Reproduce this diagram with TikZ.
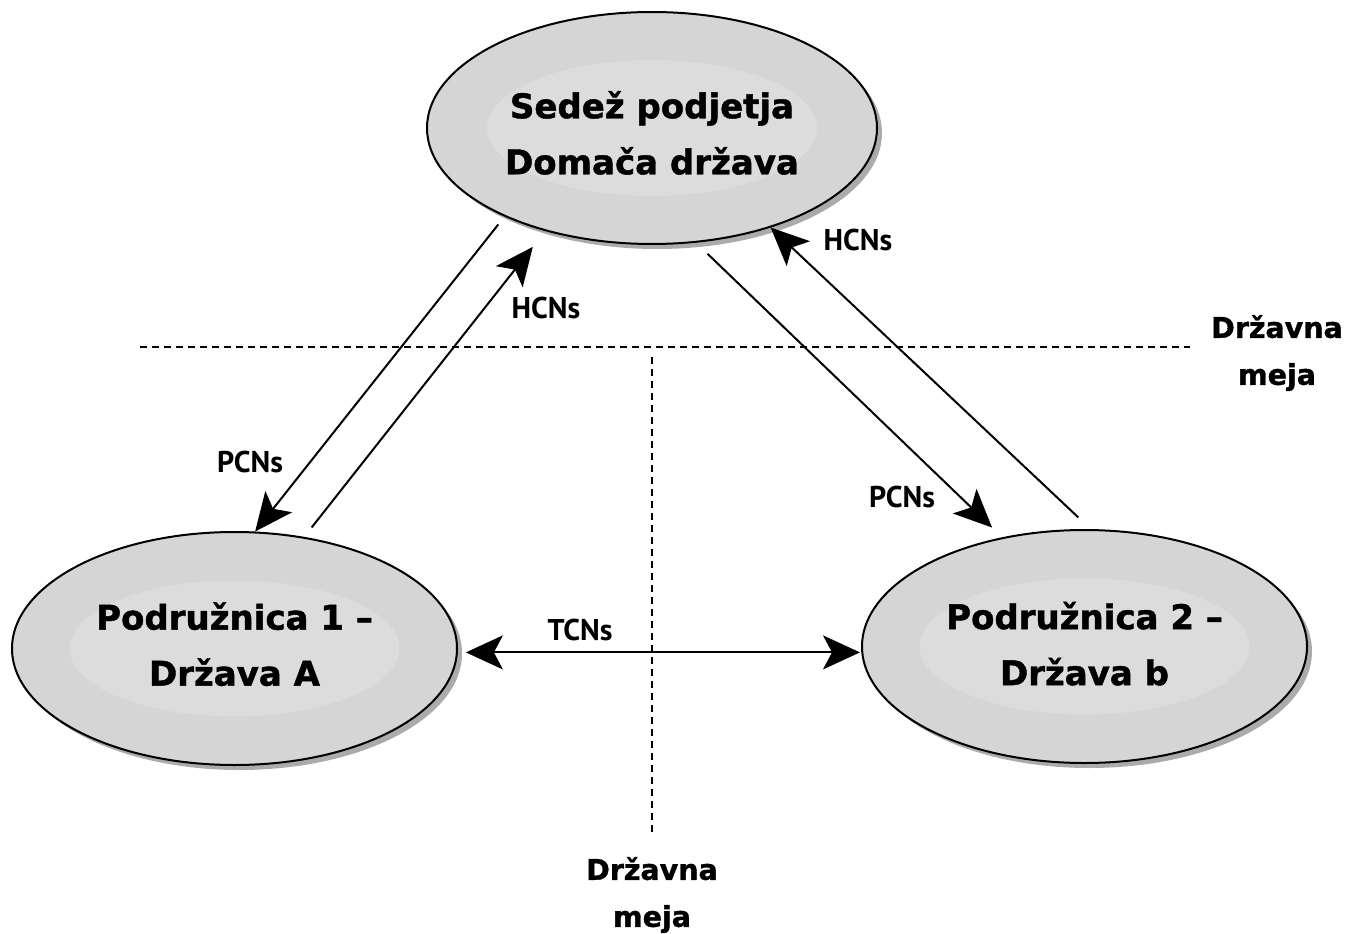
\documentclass[tikz,border=0pt]{standalone}
\usepackage{fontspec}
\setmainfont{DejaVu Sans}
\newfontfamily\heavy{DejaVu Sans}[BoldFeatures={FakeBold=1.3}]
\newfontfamily\lblfont{PT Sans}
\usetikzlibrary{shapes.geometric,arrows.meta,shadows}
\definecolor{ellfill}{HTML}{D5D5D5}
\definecolor{ellinner}{HTML}{DCDCDC}
\definecolor{shadowgray}{HTML}{ABABAB}
\tikzset{
  ell/.style={ellipse, draw=black, line width=2pt, fill=ellfill, inner sep=0pt,
    align=center, font={\heavy\fontsize{34}{56}\selectfont\bfseries},
    drop shadow={shadow xshift=5pt, shadow yshift=-5pt, fill=shadowgray, opacity=1},
    path picture={\fill[ellinner] (path picture bounding box.center) ellipse [x radius=165pt, y radius=68pt];}},
  conn/.style={line width=2pt, -{Stealth[length=38pt,width=34pt,inset=9pt]}},
  conn2/.style={line width=2pt, {Stealth[length=37pt,width=34pt,inset=9pt]}-{Stealth[length=37pt,width=34pt,inset=9pt]}},
  lbl/.style={font={\lblfont\fontsize{30}{32}\selectfont\bfseries}, inner sep=0pt},
  border/.style={font={\heavy\fontsize{28.5}{47}\selectfont\bfseries}, align=center, inner sep=0pt},
  bline/.style={line width=2pt, dash pattern=on 7pt off 5pt}
}
\begin{document}
\begin{tikzpicture}[x=1pt,y=-1pt]
\useasboundingbox[fill=white] (0,0) rectangle (1347,934);
% border lines
\draw[bline] (140,347) -- (1190,347);
\draw[bline] (652,357) -- (652,835);
% nodes
\node[ell, minimum width=450pt, minimum height=232pt] (hq) at (652,128) {\rule{0pt}{37pt}Sedež podjetja\\Domača država};
\node[ell, minimum width=445pt, minimum height=233pt] (s1) at (234.5,648.5) {Podružnica 1 –\\Država A\rule[-9pt]{0pt}{9pt}};
\node[ell, minimum width=445pt, minimum height=233pt] (s2) at (1084.5,646.5) {Podružnica 2 –\\Država b\rule[-6pt]{0pt}{6pt}};
% connectors
\draw[conn, shorten <=10pt] (hq.211) -- (s1.80);
\draw[conn, shorten <=12pt, shorten >=20pt] (s1.58) -- (hq.224);
\draw[conn, shorten <=16pt, shorten >=14pt] (hq.291) -- (s2.127);
\draw[conn, shorten <=17pt] (s2.87) -- (hq.320);
\draw[conn2, shorten <=8pt, shorten >=1pt] (s1.-1) -- (s1.-1 -| s2.west);
% labels
\node[lbl] (l1) at (250,462) {PCNs};
\node[lbl] (l2) at (546,308) {HCNs};
\node[lbl] (l3) at (858,240) {HCNs};
\node[lbl] (l4) at (902,497) {PCNs};
\node[lbl] (l5) at (580,630) {TCNs};
\node[border] (b1) at (1277,353) {Državna\\meja};
\node[border] (b2) at (652,895) {Državna\\meja};
\end{tikzpicture}
\end{document}
